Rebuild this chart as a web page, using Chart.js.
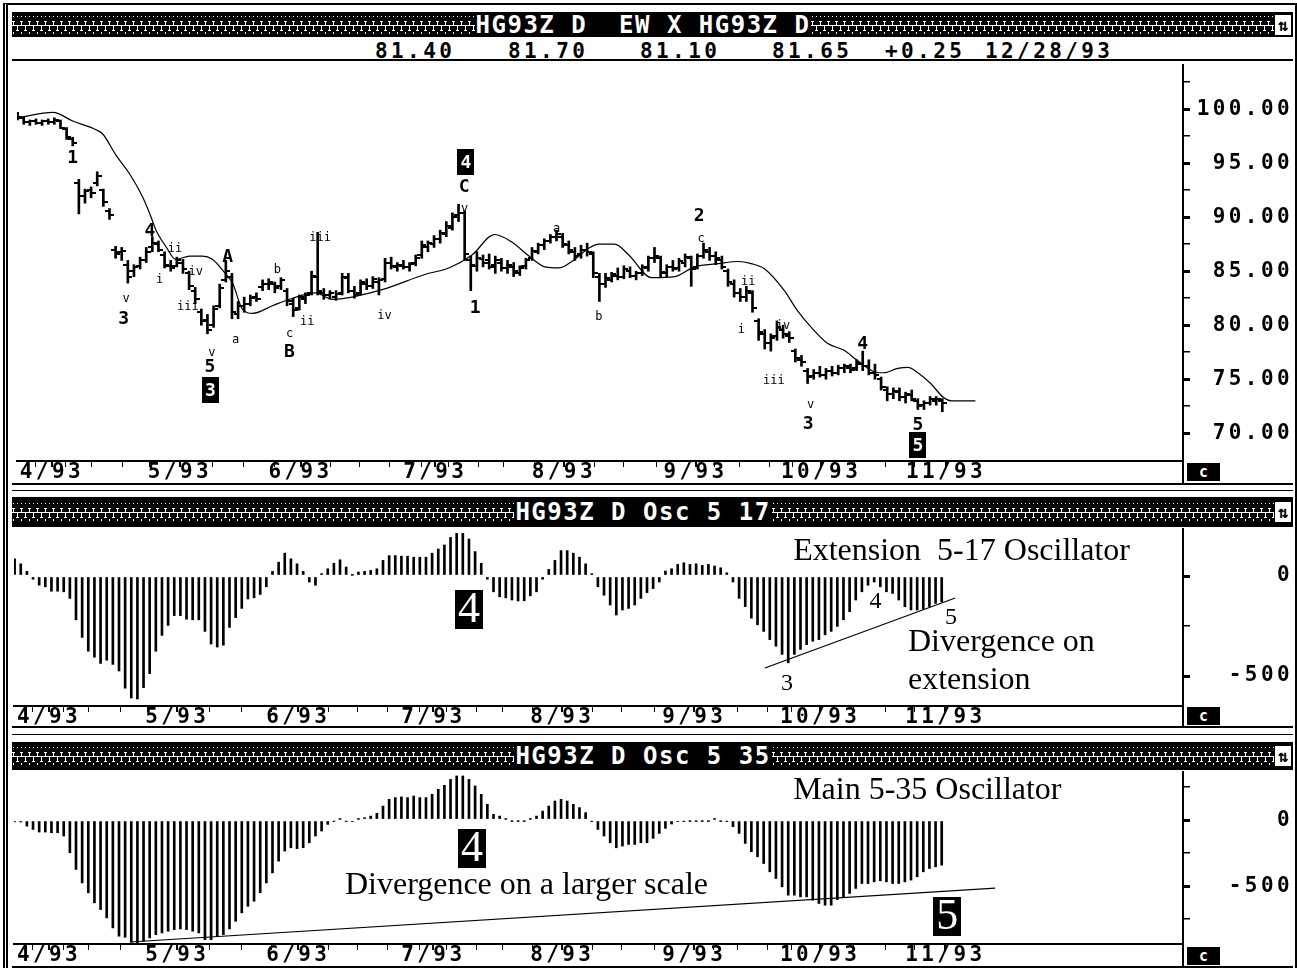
<!DOCTYPE html>
<html>
<head>
<meta charset="utf-8">
<title>HG93Z D</title>
<script src="https://cdn.jsdelivr.net/npm/chart.js"></script>
<style>
  html, body { margin: 0; padding: 0; background: #fff; }
  body { position: relative; width: 1297px; height: 972px; overflow: hidden;
         font-family: "DejaVu Sans Mono", monospace; color: #000; }
  .frame { position: absolute; left: 3px; top: 3px; width: 1287px; height: 963px;
           border-top: 2px solid #000; border-left: 5px double #000; border-right: 2px solid #000; }
  .titlebar { position: absolute; left: 12px; width: 1281px; background: #000; color: #fff;
              display: flex; align-items: center; overflow: hidden; }
  .pat { flex: 1; align-self: stretch; background-repeat: repeat-x; background-position: 0 center; }
  .ttl { font-size: 24px; font-weight: bold; letter-spacing: 1.5px; white-space: pre; padding: 0 1px; }
  .icon { width: 16px; background: #fff; color: #000; font-size: 17px; font-weight: bold;
          text-align: center; margin: 0 2px 0 1px; line-height: 20px; }
  .hline { position: absolute; left: 12px; width: 1281px; height: 2px; background: #000; }
  .vline { position: absolute; width: 2px; background: #000; }
  .quote { position: absolute; top: 41px; font-weight: bold; font-size: 21px; letter-spacing: 3.4px; line-height: 20px; }
  .cbox { position: absolute; left: 1187px; width: 33px; background: #000; color: #fff;
          font-weight: bold; font-size: 15px; text-align: center; }
  .panel { position: absolute; left: 12px; }
  canvas { display: block; }
</style>
</head>
<body>
<div class="frame"></div>

<div class="titlebar" id="title1" style="top:12px;height:25px"></div>
<div id="quoteRow"></div>
<div class="hline" style="top:59px"></div>
<div class="panel" style="top:60px"><canvas id="priceChart" width="1281" height="424"></canvas></div>
<div class="vline" style="left:1182px;top:461px;height:22px"></div>
<div class="cbox" style="top:463px;height:18px;line-height:18px">c</div>
<div class="hline" style="top:483px"></div>
<div class="hline" style="top:490px;height:1px"></div>

<div class="titlebar" id="title2" style="top:497px;height:30px"></div>
<div class="panel" style="top:527px"><canvas id="osc17Chart" width="1281" height="200"></canvas></div>
<div class="vline" style="left:1182px;top:706px;height:20px"></div>
<div class="cbox" style="top:707px;height:18px;line-height:18px">c</div>
<div class="hline" style="top:726px"></div>
<div class="hline" style="top:734px;height:1px"></div>

<div class="titlebar" id="title3" style="top:742px;height:28px"></div>
<div class="panel" style="top:770px"><canvas id="osc35Chart" width="1281" height="196"></canvas></div>
<div class="vline" style="left:1182px;top:944px;height:22px"></div>
<div class="cbox" style="top:947px;height:18px;line-height:18px">c</div>
<div class="hline" style="top:966px"></div>

<script>
// ---- header texts ----
const titles = ['HG93Z D  EW X HG93Z D', 'HG93Z D Osc 5 17', 'HG93Z D Osc 5 35'];
const quoteFields = ['81.40', '81.70', '81.10', '81.65', '+0.25', '12/28/93'];
const quoteLeft = [375, 508, 640, 772, 885, 985];

// ---- x axis (trading day index) ----
const monthLabels = ['4/93', '5/93', '6/93', '7/93', '8/93', '9/93', '10/93', '11/93'];
const monthTicks = [5.6, 26.5, 46.2, 68.2, 89.2, 110.7, 131.2, 151.6];
const weekTicks = [2.9, 7.9, 12.0, 17.2, 21.6, 31.8, 36.9, 41.9, 51.1, 55.8, 60.8, 65.9, 70.4,
                   75.3, 79.4, 84.4, 94.2, 98.9, 104.3, 113.8, 117.8, 122.7, 126.5, 136.6, 141.8, 146.5];

// ---- daily bars HG93Z ----
const opens = [99.5,99.2,98.8,98.9,98.7,98.9,98.8,98.9,98.2,97.2,
  93.2,92.0,92.5,93.2,92.5,90.6,87.0,86.8,85.6,85.0,
  85.5,86.0,87.2,87.5,86.5,85.5,85.5,85.8,84.8,83.2,
  81.2,80.5,80.0,81.8,84.2,84.5,81.0,81.8,82.0,82.6,
  83.5,83.8,83.8,83.6,83.2,82.0,81.6,82.4,83.0,84.5,
  83.0,82.8,82.6,83.0,84.4,83.2,83.0,83.8,83.6,84.0,
  84.3,85.8,85.4,85.5,85.4,85.8,86.5,87.2,87.5,88.0,
  88.4,89.0,90.2,90.4,86.0,85.5,86.1,86.0,85.6,85.8,
  85.3,85.4,84.8,85.5,86.2,86.8,87.4,87.8,88.2,88.2,
  87.4,86.8,86.6,87.0,86.6,84.5,83.8,84.2,84.6,84.5,
  85.0,84.6,84.8,85.3,86.2,86.2,84.8,85.4,85.3,85.8,
  86.2,85.4,86.4,86.8,86.4,86.0,85.0,83.8,83.0,82.6,
  83.0,80.4,79.2,78.4,79.0,79.6,79.0,77.6,76.8,75.8,
  75.3,75.6,75.4,75.8,75.6,76.0,76.0,76.0,76.4,76.2,
  75.6,75.0,74.0,73.6,73.8,73.4,73.5,73.0,72.6,72.8,
  73.0,73.0];
const highs = [99.7,99.3,99.0,99.1,99.0,99.1,99.2,99.0,98.3,97.4,
  93.5,92.6,92.8,94.2,92.6,90.8,87.3,87.2,86.0,85.6,
  86.3,87.2,88.2,87.8,86.8,86.0,86.3,86.1,85.0,83.5,
  81.5,81.0,81.8,83.8,86.0,84.8,82.2,82.6,82.8,83.0,
  84.2,84.3,84.0,84.4,83.4,82.5,82.8,83.0,85.0,88.6,
  83.4,83.2,83.2,84.8,84.8,83.6,84.2,84.3,84.5,84.4,
  86.2,86.3,85.8,86.0,85.8,86.5,87.8,87.8,88.3,88.8,
  89.6,90.4,91.2,90.6,86.4,86.8,86.5,86.6,86.4,86.2,
  86.0,85.8,85.5,86.2,87.2,87.6,88.0,88.4,88.8,88.5,
  87.8,87.2,87.4,87.6,86.8,84.8,84.8,84.9,85.3,85.5,
  85.4,85.0,85.6,86.4,87.2,86.4,85.6,86.0,86.2,86.6,
  86.4,86.6,87.6,87.2,86.8,86.4,85.2,84.2,83.4,83.6,
  83.2,80.6,79.6,79.2,80.4,80.0,79.4,77.8,77.2,76.0,
  75.9,76.2,76.0,76.2,76.3,76.4,76.4,76.8,77.6,76.8,
  76.4,75.2,74.3,74.2,74.2,73.8,74.0,73.2,73.0,73.4,
  73.4,73.2];
const lows = [99.0,98.6,98.5,98.6,98.5,98.6,98.6,98.2,97.2,96.6,
  90.3,91.3,91.8,92.9,91.0,89.8,86.2,86.0,83.9,84.5,
  85.2,85.8,86.8,86.8,85.3,85.0,85.4,84.8,83.3,82.0,
  80.0,79.2,79.8,81.6,84.0,80.6,80.6,81.2,81.8,82.2,
  83.2,83.3,83.0,83.3,81.8,80.8,81.4,82.0,82.8,82.8,
  82.4,82.4,82.3,82.8,83.0,82.5,82.8,83.3,83.4,82.8,
  84.0,85.2,85.0,85.2,85.0,85.5,86.2,86.8,87.2,87.6,
  88.2,88.8,89.6,86.0,83.2,85.0,85.4,85.2,84.8,85.0,
  84.8,84.5,84.6,85.2,86.0,86.6,87.0,87.6,87.8,87.2,
  86.6,86.0,86.2,86.4,84.4,82.2,83.5,84.0,84.2,84.3,
  84.4,84.2,84.6,85.0,85.8,84.5,84.5,85.0,85.0,85.4,
  83.6,85.2,86.2,86.0,85.6,85.2,83.6,82.6,82.2,82.2,
  81.2,78.6,77.8,77.6,78.6,78.8,78.4,76.6,76.2,74.6,
  75.0,75.2,75.0,75.3,75.4,75.6,75.6,75.8,75.8,75.4,
  75.0,74.0,73.0,73.2,73.0,72.8,73.0,72.2,72.2,72.6,
  72.6,72.0];
const closes = [99.3,98.8,98.9,98.7,98.9,98.8,99.0,98.3,97.4,96.9,
  92.0,92.4,92.2,93.8,91.4,90.2,86.6,86.9,84.5,85.4,
  86.0,86.8,87.6,87.0,85.6,85.3,86.0,85.2,83.6,82.4,
  80.4,79.6,81.5,83.4,85.0,81.2,81.8,82.0,82.5,82.4,
  83.8,84.0,83.4,84.2,82.2,81.4,82.6,82.8,84.6,83.2,
  82.8,83.0,82.9,84.5,83.2,82.8,84.0,83.6,84.3,84.2,
  85.8,85.5,85.6,85.4,85.7,86.2,87.4,87.6,88.0,88.5,
  89.2,90.0,90.4,86.6,85.6,86.2,85.8,85.4,86.0,85.3,
  85.6,85.0,85.3,86.0,86.9,87.4,87.8,88.2,88.4,87.5,
  87.0,86.4,87.0,86.8,84.8,83.8,84.4,84.7,84.5,85.2,
  84.6,84.8,85.4,86.2,86.4,84.9,85.4,85.2,85.9,86.3,
  85.2,86.4,87.0,86.4,86.2,85.4,84.0,83.0,82.6,83.2,
  81.6,79.4,78.4,78.8,79.8,79.2,78.8,77.0,76.6,75.2,
  75.6,75.4,75.8,75.6,76.0,76.2,75.9,76.5,76.2,75.6,
  75.4,74.3,73.6,73.9,73.4,73.6,73.2,72.5,72.8,73.2,
  73.2,72.8];

// ---- moving average line (day index / value) ----
const maIdx = [0,5.8,9.0,12.8,13.9,16.0,18.3,20.4,21.6,22.6,
  24.2,25.8,28.1,30.2,31.8,33.9,35.1,36.7,38.4,41.6,
  44.4,48.6,51.4,59.5,66.5,70.4,74.2,77.9,80.7,83.5,
  86.1,88.4,90.5,93.2,94.9,97.5,99.8,103.5,107.3,110.5,
  114.4,117.7,119.8,122.0,125.2,127.4,129.6,132.3,134.9,137.2,
  140.5,141.4,143.7,145.4,147.0,149.1,151.2,152.4,156.4];
const maVals = [99.2,99.7,98.9,98.1,97.7,95.8,94.0,91.9,90.3,88.8,
  87.3,86.1,86.4,86.4,86.1,84.8,83.9,81.5,81.1,81.8,
  82.4,83.0,82.4,83.3,84.7,85.3,86.5,88.4,87.7,86.4,
  85.4,85.3,85.9,87.1,87.5,87.5,86.5,84.4,84.5,85.4,
  85.7,85.9,85.7,85.2,83.2,81.3,79.8,78.3,77.7,76.7,
  75.6,75.6,76.0,76.1,75.6,74.6,73.3,73.0,73.0];

// ---- oscillators ----
const osc17 = [86,61,23,-16,-46,-54,-76,-76,-79,-112,
  -219,-307,-376,-406,-437,-421,-442,-475,-561,-610,
  -615,-558,-488,-376,-297,-247,-198,-198,-216,-219,
  -219,-277,-340,-355,-346,-257,-208,-162,-115,-109,
  -92,-54,23,69,114,86,61,23,-30,-46,
  12,36,64,81,45,3,20,23,28,36,
  78,102,102,99,99,94,94,94,114,135,
  155,193,213,213,185,122,64,-16,-79,-104,
  -109,-120,-125,-124,-99,-79,-16,33,78,127,
  127,114,94,61,12,-54,-96,-145,-195,-170,
  -162,-145,-112,-83,-63,-30,25,36,58,66,
  58,61,53,58,50,41,16,-30,-112,-153,
  -211,-244,-277,-318,-351,-392,-434,-392,-367,-343,
  -326,-318,-294,-277,-252,-219,-178,-120,-79,-46,
  -30,-54,-79,-87,-120,-153,-170,-170,-165,-153,
  -137,-129];
const osc35 = [-15,-15,-46,-71,-91,-91,-96,-96,-121,-248,
  -374,-476,-551,-627,-678,-741,-817,-880,-888,-926,
  -931,-918,-893,-868,-855,-842,-830,-825,-830,-842,
  -855,-906,-906,-880,-868,-825,-767,-703,-653,-615,
  -551,-476,-400,-311,-235,-210,-217,-210,-172,-121,
  -83,-33,-8,5,-8,-10,5,18,30,51,
  106,157,170,175,170,182,170,170,195,233,
  263,308,334,334,308,258,195,119,43,30,
  5,-5,-5,-5,5,30,68,106,144,157,
  144,119,94,56,-8,-71,-121,-172,-210,-197,
  -185,-185,-172,-172,-139,-101,-63,-30,-10,-8,
  -5,-5,-5,-5,5,-5,-8,-50,-101,-177,
  -240,-278,-329,-392,-443,-506,-569,-569,-582,-582,
  -607,-632,-645,-645,-602,-582,-556,-518,-481,-481,
  -468,-460,-468,-481,-481,-468,-455,-430,-392,-367,
  -354,-342];

// divergence trend lines
const div17 = [{ x: 122.2, y: -460 }, { x: 153.2, y: -110 }];
const div35 = [{ x: 18.8, y: -924 }, { x: 159.7, y: -515 }];

// ---- annotations (day index, value, text, style) ----
const priceNotes = [
  [9.0, 95.5, '1', 'bd'], [17.7, 82.5, 'v', 'sm'], [17.3, 80.6, '3', 'bd'], [21.6, 88.8, '4', 'bd'],
  [25.7, 87.2, 'ii', 'sm'], [23.2, 84.3, 'i', 'sm'], [29.1, 85.0, 'iv', 'sm'], [27.8, 81.8, 'iii', 'sm'],
  [34.3, 86.4, 'A', 'bd'], [31.7, 77.5, 'v', 'sm'], [31.4, 76.2, '5', 'bd'], [31.5, 74.0, '3', 'box'],
  [35.6, 78.7, 'a', 'sm'], [42.4, 85.2, 'b', 'sm'], [44.4, 79.3, 'c', 'sm'], [44.4, 77.6, 'B', 'bd'],
  [47.3, 80.4, 'ii', 'sm'], [49.4, 88.2, 'iii', 'sm'], [59.9, 81.0, 'iv', 'sm'],
  [73.2, 95.1, '4', 'box'], [72.9, 92.9, 'C', 'bd'], [73.0, 90.9, 'v', 'sm'], [74.7, 81.7, '1', 'bd'],
  [88.0, 89.0, 'a', 'sm'], [94.9, 80.9, 'b', 'sm'], [111.3, 90.2, '2', 'bd'], [111.6, 88.1, 'c', 'sm'],
  [119.3, 84.1, 'ii', 'sm'], [118.2, 79.7, 'i', 'sm'], [125.0, 80.0, 'iv', 'sm'], [123.5, 74.9, 'iii', 'sm'],
  [129.5, 72.7, 'v', 'sm'], [129.1, 70.9, '3', 'bd'], [138.0, 78.3, '4', 'bd'],
  [147.0, 70.8, '5', 'bd'], [147.0, 68.9, '5', 'box']
];
const osc17Notes = [
  [126.8, 125, 'Extension  5-17 Oscillator', 'cap'], [74.0, -165, '4', 'big'],
  [140.2, -125, '4', 'num'], [152.5, -205, '5', 'num'], [125.8, -535, '3', 'num'],
  [145.5, -330, 'Divergence on', 'cap'], [145.5, -520, 'extension', 'cap']
];
const osc35Notes = [
  [126.8, 227, 'Main 5-35 Oscillator', 'cap'], [74.5, -212, '4', 'big'],
  [53.8, -492, 'Divergence on a larger scale', 'cap'], [151.9, -727, '5', 'big']
];

// ---------------------------------------------------------------
const MONO = '"DejaVu Sans Mono", monospace';
const tickFont = { family: MONO, size: 21, weight: 'bold', lineHeight: 1 };

const noteStyles = {
  sm:  { font: '12px "DejaVu Sans Mono"' },
  bd:  { font: 'bold 18px "DejaVu Sans Mono"' },
  box: { font: 'bold 18px "DejaVu Sans Mono"', box: [17, 26] },
  cap: { font: '32px "Liberation Serif"', align: 'left' },
  num: { font: '24px "Liberation Serif"' },
  big: { font: '44px "Liberation Serif"', box: [28, 39] }
};

// header build: textured title bars
const tile = '<svg xmlns="http://www.w3.org/2000/svg" width="8" height="22"><g fill="white">' +
  '<rect x="1" y="2" width="1" height="1"/><rect x="5" y="2" width="1" height="1"/>' +
  '<rect x="0" y="7" width="3" height="1"/><rect x="1" y="7" width="1" height="5"/>' +
  '<rect x="0" y="11" width="8" height="1"/><rect x="5" y="11" width="1" height="5"/>' +
  '<rect x="4" y="16" width="3" height="1"/><rect x="1" y="18" width="1" height="2"/></g></svg>';
const tileUrl = 'url("data:image/svg+xml;utf8,' + encodeURIComponent(tile) + '")';
titles.forEach((t, k) => {
  const el = document.getElementById('title' + (k + 1));
  const mkPat = () => {
    const p = document.createElement('div');
    p.className = 'pat';
    p.style.backgroundImage = tileUrl;
    return p;
  };
  const ttl = document.createElement('span');
  ttl.className = 'ttl';
  ttl.textContent = t;
  const icon = document.createElement('div');
  icon.className = 'icon';
  icon.textContent = '⇅';
  el.append(mkPat(), ttl, mkPat(), icon);
});
const qr = document.getElementById('quoteRow');
quoteFields.forEach((q, k) => {
  const s = document.createElement('div');
  s.className = 'quote';
  s.style.left = quoteLeft[k] + 'px';
  s.textContent = q;
  qr.appendChild(s);
});

// open / close tick marks as point images
function tickImg(right) {
  const c = document.createElement('canvas');
  c.width = 9; c.height = 2;
  const g = c.getContext('2d');
  g.fillStyle = '#000';
  g.fillRect(right ? 5 : 0, 0, 4, 2);
  return c;
}
const openTick = tickImg(false), closeTick = tickImg(true);

const spacing = {
  id: 'spacing',
  beforeDraw(chart) { chart.ctx.letterSpacing = '3.4px'; }
};

const annotate = {
  id: 'annotate',
  afterDatasetsDraw(chart, args, opts) {
    const { ctx, scales: { x, y } } = chart;
    ctx.save();
    ctx.letterSpacing = '0px';
    ctx.textBaseline = 'middle';
    for (const [i, v, t, s] of opts.items) {
      const st = noteStyles[s];
      const px = x.getPixelForValue(i), py = y.getPixelForValue(v);
      ctx.font = st.font;
      ctx.textAlign = st.align || 'center';
      if (st.box) {
        ctx.fillStyle = '#000';
        ctx.fillRect(Math.round(px - st.box[0] / 2), Math.round(py - st.box[1] / 2), st.box[0], st.box[1]);
        ctx.fillStyle = '#fff';
      } else {
        ctx.fillStyle = '#000';
      }
      ctx.fillText(t, px, py + 1);
    }
    ctx.restore();
  }
};

const allXTicks = monthTicks.concat(weekTicks).sort((a, b) => a - b);

function xAxis(h) {
  return {
    type: 'linear', position: 'bottom', min: -0.1, max: 190.3, offset: false,
    afterBuildTicks: s => { s.ticks = allXTicks.map(v => ({ value: v })); },
    afterFit: s => { s.height = h; s.paddingLeft = 0; s.paddingRight = 0; },
    ticks: {
      autoSkip: false, maxRotation: 0, padding: -5, color: '#000', font: tickFont,
      callback: v => { const k = monthTicks.indexOf(v); return k >= 0 ? monthLabels[k] : ''; }
    },
    grid: {
      offset: false, drawOnChartArea: false, tickLength: 6, color: '#000',
      lineWidth: c => (c.tick && monthTicks.includes(c.tick.value)) ? 2 : 1
    },
    border: { display: true, color: '#000', width: 2 }
  };
}

function yAxis(min, max, vals, isMajor, fmt) {
  return {
    type: 'linear', position: 'right', min, max,
    afterBuildTicks: s => { s.ticks = vals.map(v => ({ value: v })); },
    afterFit: s => { s.width = 110; s.paddingTop = 0; s.paddingBottom = 0; },
    ticks: {
      autoSkip: false, crossAlign: 'far', padding: 4, color: '#000', font: tickFont,
      callback: v => isMajor(v) ? fmt(v) : ''
    },
    grid: {
      drawOnChartArea: false, tickLength: 7, color: '#000',
      lineWidth: c => (c.tick && isMajor(c.tick.value)) ? 3 : 1.5
    },
    border: { display: true, color: '#000', width: 2 }
  };
}

function baseOptions(xh, yopts, notes) {
  return {
    responsive: false, animation: false, events: [],
    layout: { padding: { left: 2, top: 2, right: 0, bottom: 0 } },
    scales: { x: xAxis(xh), y: yopts },
    plugins: { legend: { display: false }, tooltip: { enabled: false }, annotate: { items: notes } }
  };
}

// ---- price panel ----
new Chart(document.getElementById('priceChart'), {
  type: 'bar',
  data: {
    datasets: [
      { type: 'bar', data: highs.map((h, i) => ({ x: i, y: [lows[i], h] })),
        backgroundColor: '#000', borderWidth: 0, barThickness: 2, grouped: false },
      { type: 'line', showLine: false, data: opens.map((o, i) => ({ x: i, y: o })),
        pointStyle: openTick, pointRadius: 4 },
      { type: 'line', showLine: false, data: closes.map((c, i) => ({ x: i, y: c })),
        pointStyle: closeTick, pointRadius: 4 },
      { type: 'line', data: maIdx.map((x, k) => ({ x, y: maVals[k] })),
        borderColor: '#000', borderWidth: 1.2, pointRadius: 0, cubicInterpolationMode: 'monotone' }
    ]
  },
  options: baseOptions(23,
    yAxis(67.43, 104.09, [70, 72.5, 75, 77.5, 80, 82.5, 85, 87.5, 90, 92.5, 95, 97.5, 100, 102.5],
      v => v % 5 === 0, v => v.toFixed(2)),
    priceNotes),
  plugins: [spacing, annotate]
});

// ---- oscillator panels ----
function oscChart(id, values, line, xh, min, max, vals, notes) {
  new Chart(document.getElementById(id), {
    type: 'bar',
    data: {
      datasets: [
        { type: 'bar', data: values.map((v, i) => ({ x: i, y: v })),
          backgroundColor: '#000', borderWidth: 0, barThickness: 2, grouped: false },
        { type: 'line', data: line, borderColor: '#000', borderWidth: 1.2, pointRadius: 0 }
      ]
    },
    options: baseOptions(xh, yAxis(min, max, vals, v => v % 500 === 0, v => String(v)), notes),
    plugins: [spacing, annotate]
  });
}
oscChart('osc17Chart', osc17, div17, 21, -650, 235, [-500, -250, 0], osc17Notes);
oscChart('osc35Chart', osc35, div35, 22, -939, 364, [-750, -500, -250, 0, 250], osc35Notes);
</script>
</body>
</html>
